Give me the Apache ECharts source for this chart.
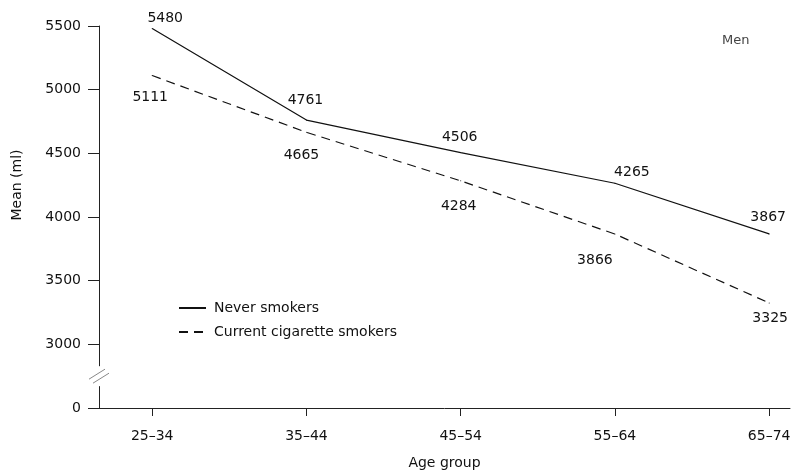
<!DOCTYPE html>
<html>
<head>
<meta charset="utf-8">
<script src="https://cdn.jsdelivr.net/npm/echarts@6/dist/echarts.min.js"></script>
<style>
  html, body { margin: 0; padding: 0; background: #fff; }
  #chart { width: 793px; height: 474px; }
</style>
</head>
<body>
<div id="chart"></div>
<script>
// Age groups on the x axis
const ageGroups = ['25–34', '35–44', '45–54', '55–64', '65–74'];
// Mean values (ml) per age group
const neverSmokers = [5480, 4761, 4506, 4265, 3867];
const currentSmokers = [5111, 4665, 4284, 3866, 3325];
// Y tick values; the lowest one sits below the axis break and reads as 0
const yTicks = [2500, 3000, 3500, 4000, 4500, 5000, 5500];
const yBreakValue = 2500;

// Label placement relative to each point (dx, dy of the label centre)
const neverLabelShift = [[13, -10], [-1, -20], [-1, -15], [17, -11], [-1, -17]];
const currentLabelShift = [[-2, 22], [-5, 23], [-2, 26], [-20, 26], [1, 15]];

const FONT = '"DejaVu Sans", "Liberation Sans", Arial, sans-serif';
const INK = '#111';

function buildData(values, shifts) {
  return values.map((v, i) => ({
    value: [i, v],
    label: { offset: shifts[i] }
  }));
}

const chart = echarts.init(document.getElementById('chart'));

const seriesCommon = {
  type: 'line',
  symbol: 'circle',
  symbolSize: 1,
  itemStyle: { color: INK },
  silent: true,
  animation: false,
  label: {
    show: true,
    position: 'inside',
    color: INK,
    fontFamily: FONT,
    fontSize: 14,
    formatter: p => String(p.value[1])
  }
};

chart.setOption({
  backgroundColor: '#fff',
  animation: false,
  grid: { left: 99, right: 3, top: 26, bottom: 66, containLabel: false, outerBoundsMode: 'none' },
  xAxis: {
    type: 'value',
    min: -0.345,
    max: 4.135,
    name: 'Age group',
    nameLocation: 'middle',
    nameGap: 48,
    nameTextStyle: { color: INK, fontFamily: FONT, fontSize: 14 },
    axisLine: { show: true, onZero: false, lineStyle: { color: '#222', width: 1 } },
    axisTick: {
      show: true, length: 8, inside: false,
      customValues: ageGroups.map((_, i) => i),
      lineStyle: { color: '#222' }
    },
    axisLabel: {
      customValues: ageGroups.map((_, i) => i),
      formatter: v => ageGroups[Math.round(v)],
      color: INK, fontFamily: FONT, fontSize: 14, margin: 21
    },
    splitLine: { show: false }
  },
  yAxis: {
    type: 'value',
    min: yTicks[0],
    max: yTicks[yTicks.length - 1],
    interval: 500,
    name: 'Mean (ml)',
    nameLocation: 'middle',
    nameGap: 75,
    nameRotate: 90,
    nameTextStyle: { color: INK, fontFamily: FONT, fontSize: 14, padding: [0, 0, 0, 64] },
    axisLine: { show: true, onZero: false, lineStyle: { color: '#222', width: 1 } },
    axisTick: { show: true, length: 11, lineStyle: { color: '#222' } },
    axisLabel: {
      formatter: v => (v === yBreakValue ? '0' : String(v)),
      color: INK, fontFamily: FONT, fontSize: 14, margin: 18
    },
    splitLine: { show: false }
  },
  legend: {
    left: 178,
    top: 301,
    padding: 0,
    orient: 'vertical',
    itemWidth: 27,
    itemHeight: 14,
    itemGap: 10,
    selectedMode: false,
    itemStyle: { opacity: 0 },
    textStyle: { color: INK, fontFamily: FONT, fontSize: 14, padding: [0, 0, 0, 3] },
    data: ['Never smokers', 'Current cigarette smokers']
  },
  series: [
    Object.assign({}, seriesCommon, {
      name: 'Never smokers',
      lineStyle: { color: INK, width: 1.2, type: 'solid' },
      data: buildData(neverSmokers, neverLabelShift)
    }),
    Object.assign({}, seriesCommon, {
      name: 'Current cigarette smokers',
      lineStyle: { color: INK, width: 1.2, type: [9, 6] },
      data: buildData(currentSmokers, currentLabelShift)
    })
  ]
});

// Axis break marks between the 0 tick and 3000
const bx = chart.convertToPixel({ xAxisIndex: 0 }, -0.345);
const by = chart.convertToPixel({ yAxisIndex: 0 }, 2750);
chart.setOption({
  graphic: [
    { type: 'rect', shape: { x: bx - 3, y: by - 10, width: 6, height: 20 }, style: { fill: '#fff' }, z: 100 },
    { type: 'line', shape: { x1: bx - 10, y1: by + 3, x2: bx + 6, y2: by - 7 }, style: { stroke: '#888', lineWidth: 1 }, z: 101 },
    { type: 'line', shape: { x1: bx - 6, y1: by + 7, x2: bx + 10, y2: by - 3 }, style: { stroke: '#888', lineWidth: 1 }, z: 101 },
    { type: 'text', left: 722, top: 34, style: { text: 'Men', fill: '#444', font: '13px ' + FONT }, z: 101 }
  ]
});
</script>
</body>
</html>
